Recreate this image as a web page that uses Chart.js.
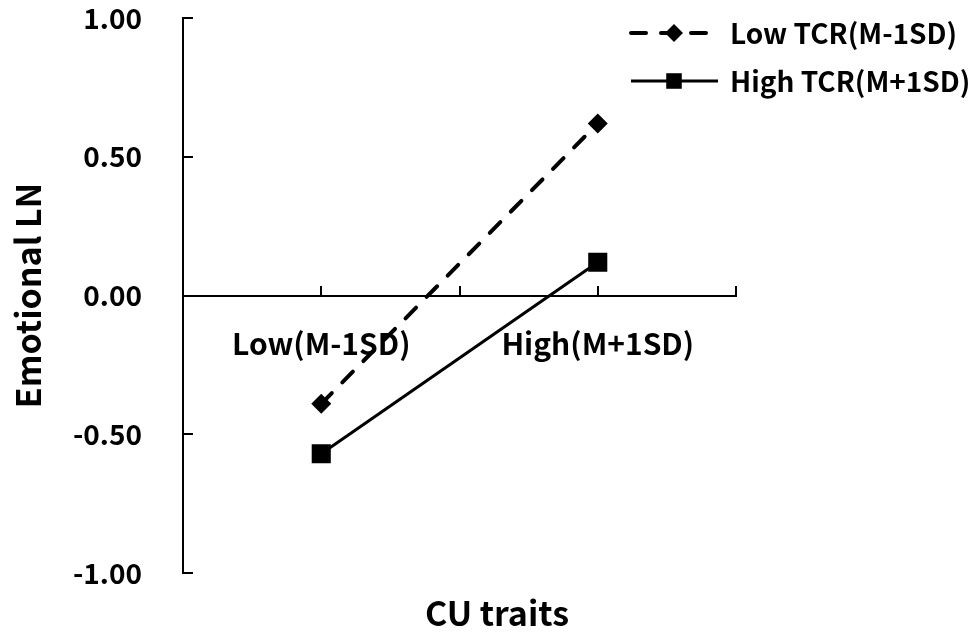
<!DOCTYPE html>
<html>
<head>
<meta charset="utf-8">
<script src="https://cdn.jsdelivr.net/npm/chart.js@4.4.1/dist/chart.umd.min.js"></script>
<style>
  html, body { margin: 0; padding: 0; background: #fff; }
  #wrap { width: 971px; height: 633px; }
</style>
</head>
<body>
<div id="wrap"><canvas id="chart"></canvas></div>
<script>
// data
const categories = ['', 'Low(M-1SD)', '', 'High(M+1SD)', ''];
const lowTcr = [null, -0.39, null, 0.62, null];
const highTcr = [null, -0.57, null, 0.12, null];
const seriesNames = ['Low TCR(M-1SD)', 'High TCR(M+1SD)'];
const yMin = -1, yMax = 1, yStep = 0.5;
const yTitle = 'Emotional LN';
const xTitle = 'CU traits';

const FONT = "'Noto Sans CJK JP', 'Noto Sans', sans-serif";

// legend + x title drawn by hand (legend sits over the plot, title is off-centre)
const sideLegend = {
  id: 'sideLegend',
  afterDraw(chart) {
    const ctx = chart.ctx;
    ctx.save();
    chart.data.datasets.forEach((ds, i) => {
      const y = 33 + i * 48;
      const x0 = 631, x1 = 718;
      ctx.strokeStyle = ds.borderColor;
      ctx.lineWidth = ds.borderWidth;
      ctx.lineCap = ds.borderCapStyle || 'butt';
      ctx.setLineDash(ds.borderDash || []);
      ctx.beginPath();
      ctx.moveTo(x0, y);
      ctx.lineTo(ds.borderDash ? 706 : x1, y);
      ctx.stroke();
      ctx.setLineDash([]);
      ctx.fillStyle = ds.pointBackgroundColor;
      Chart.helpers.drawPoint(ctx, { pointStyle: ds.pointStyle, radius: ds.legendRadius, borderWidth: 0, rotation: 0 }, 674, y);
      ctx.fillStyle = '#000';
      ctx.font = 'bold 28px ' + FONT;
      ctx.textAlign = 'left';
      ctx.textBaseline = 'middle';
      ctx.fillText(ds.label, 730, y);
    });
    ctx.font = 'bold 34px ' + FONT;
    ctx.textAlign = 'center';
    ctx.textBaseline = 'middle';
    ctx.fillText(xTitle, 497, 613);
    ctx.restore();
  }
};

new Chart(document.getElementById('chart'), {
  type: 'line',
  data: {
    labels: categories,
    datasets: [
      {
        label: seriesNames[0], data: lowTcr, spanGaps: true,
        borderColor: '#000', borderWidth: 4, borderDash: [15, 15], borderCapStyle: 'round',
        pointStyle: 'rectRot', pointRadius: 10, pointBackgroundColor: '#000', pointBorderWidth: 0,
        legendRadius: 9
      },
      {
        label: seriesNames[1], data: highTcr, spanGaps: true,
        borderColor: '#000', borderWidth: 3,
        pointStyle: 'rect', pointRadius: 13.5, pointBackgroundColor: '#000', pointBorderWidth: 0,
        legendRadius: 11
      }
    ]
  },
  options: {
    responsive: true,
    maintainAspectRatio: false,
    animation: false,
    layout: { padding: { left: 0, right: 235, top: 18, bottom: 60 } },
    plugins: { legend: { display: false }, tooltip: { enabled: false } },
    scales: {
      x: {
        type: 'category',
        position: { y: 0 },
        offset: false,
        afterFit: s => { s.height = 0; },
        grid: { drawOnChartArea: false, drawTicks: true, tickLength: -11, color: '#000', lineWidth: 2 },
        border: { display: true, color: '#000', width: 2 },
        ticks: { color: '#000', font: { family: FONT, size: 30, weight: 'bold' }, padding: 41, maxRotation: 0, autoSkip: false }
      },
      y: {
        min: yMin, max: yMax,
        // fixed axis width; drop the label padding so the plot keeps its full height
        afterFit: s => { s.width = 183; s.paddingTop = 0; s.paddingBottom = 0; },
        grid: { drawOnChartArea: false, drawTicks: true, tickLength: -10, color: '#000', lineWidth: 2 },
        border: { display: true, color: '#000', width: 2 },
        ticks: { stepSize: yStep, color: '#000', font: { family: FONT, size: 28, weight: 'bold' }, padding: 51,
          callback: v => v.toFixed(2) },
        title: { display: true, text: yTitle, color: '#000', font: { family: FONT, size: 34, weight: 'bold' }, padding: { top: 8, bottom: 0 } }
      }
    }
  },
  plugins: [sideLegend]
});
</script>
</body>
</html>
